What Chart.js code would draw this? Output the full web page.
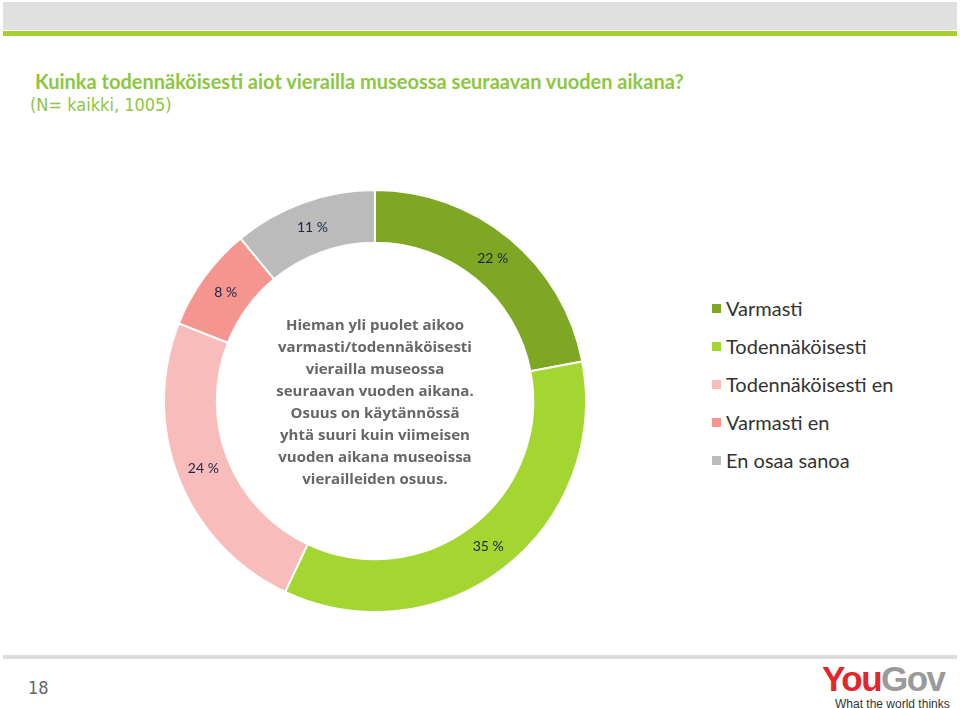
<!DOCTYPE html>
<html>
<head>
<meta charset="utf-8">
<script src="https://cdn.jsdelivr.net/npm/chart.js@4.4.1/dist/chart.umd.min.js"></script>
<style>
  body { margin: 0; background: #fff; width: 960px; height: 708px; position: relative; overflow: hidden; font-family: Lato, "Open Sans", sans-serif; }
  #top-band { position: absolute; left: 3px; top: 2px; width: 954px; height: 28px; background: #e0e0e0; }
  #top-line { position: absolute; left: 3px; top: 31px; width: 954px; height: 5px; background: #a3d12f; }
  #title { position: absolute; left: 35px; top: 69px; font-size: 20px; font-weight: bold; color: #8dc63f; white-space: nowrap; }
  #subtitle { position: absolute; left: 30px; top: 94px; font-family: "Liberation Sans Narrow", "DejaVu Sans Condensed", sans-serif; font-size: 18px; color: #8dc63f; }
  #chart-box { position: absolute; left: 155px; top: 181px; width: 440px; height: 440px; }
  #center-text { position: absolute; left: 235px; top: 313px; width: 280px; text-align: center; font-family: "Open Sans", sans-serif; font-weight: bold; font-size: 15px; line-height: 22px; color: #666; }
  #legend { position: absolute; left: 712px; top: 296px; }
  .leg-row { height: 38px; font-size: 20px; color: #333; white-space: nowrap; }
  .leg-box { display: inline-block; width: 9px; height: 9px; margin-right: 5px; vertical-align: 3px; }
  #bottom-line { position: absolute; left: 3px; top: 655px; width: 954px; height: 4px; background: #dcdcdc; }
  #page-no { position: absolute; left: 28px; top: 677px; font-family: "Liberation Sans Narrow", "DejaVu Sans Condensed", sans-serif; font-size: 18px; color: #666; }
  #logo { position: absolute; left: 822px; top: 660px; width: 130px; font-family: "Liberation Sans", Arial, sans-serif; }
  #logo .name { font-size: 35px; font-weight: bold; letter-spacing: -1.5px; line-height: 38px; }
  #logo .you { color: #e2262b; }
  #logo .gov { color: #9a9a9a; }
  #logo .tag { font-size: 12px; color: #333; margin-left: 13px; line-height: 12px; }
</style>
</head>
<body>
<div id="top-band"></div>
<div id="top-line"></div>
<div id="title">Kuinka todennäköisesti aiot vierailla museossa seuraavan vuoden aikana?</div>
<div id="subtitle">(N= kaikki, 1005)</div>

<div id="chart-box"><canvas id="donut"></canvas></div>
<div id="center-text">Hieman yli puolet aikoo<br>varmasti/todennäköisesti<br>vierailla museossa<br>seuraavan vuoden aikana.<br>Osuus on käytännössä<br>yhtä suuri kuin viimeisen<br>vuoden aikana museoissa<br>vierailleiden osuus.</div>

<div id="legend"></div>

<div id="bottom-line"></div>
<div id="page-no">18</div>
<div id="logo">
  <div class="name"><span class="you">You</span><span class="gov">Gov</span></div>
  <div class="tag">What the world thinks</div>
</div>

<script>
// Data
const categories = ['Varmasti', 'Todennäköisesti', 'Todennäköisesti en', 'Varmasti en', 'En osaa sanoa'];
const shares = [22, 35, 24, 8, 11];
const sliceColors = ['#7ea823', '#a3d631', '#f8bcbb', '#f5958f', '#bbbbbb'];

// Legend
const legend = document.getElementById('legend');
categories.forEach((name, i) => {
    const row = document.createElement('div');
    row.className = 'leg-row';
    const box = document.createElement('span');
    box.className = 'leg-box';
    box.style.background = sliceColors[i];
    row.appendChild(box);
    row.appendChild(document.createTextNode(name));
    legend.appendChild(row);
});

// Percent labels in the middle of each ring segment
const sliceLabels = {
    id: 'sliceLabels',
    afterDatasetsDraw(chart) {
        const ctx = chart.ctx;
        const meta = chart.getDatasetMeta(0);
        ctx.save();
        ctx.font = '14px Lato, "Open Sans", sans-serif';
        ctx.fillStyle = '#1c2548';
        ctx.textAlign = 'center';
        ctx.textBaseline = 'middle';
        meta.data.forEach((arc, i) => {
            const pos = arc.tooltipPosition();
            ctx.fillText(shares[i] + ' %', pos.x, pos.y);
        });
        ctx.restore();
    }
};

new Chart(document.getElementById('donut'), {
    type: 'doughnut',
    data: {
        labels: categories,
        datasets: [{
            data: shares,
            backgroundColor: sliceColors,
            borderColor: '#ffffff',
            borderWidth: 2,
            hoverOffset: 0
        }]
    },
    options: {
        responsive: true,
        maintainAspectRatio: false,
        animation: false,
        cutout: '75%',
        layout: { padding: 8 },
        plugins: {
            legend: { display: false },
            tooltip: { enabled: false }
        }
    },
    plugins: [sliceLabels]
});
</script>
</body>
</html>
